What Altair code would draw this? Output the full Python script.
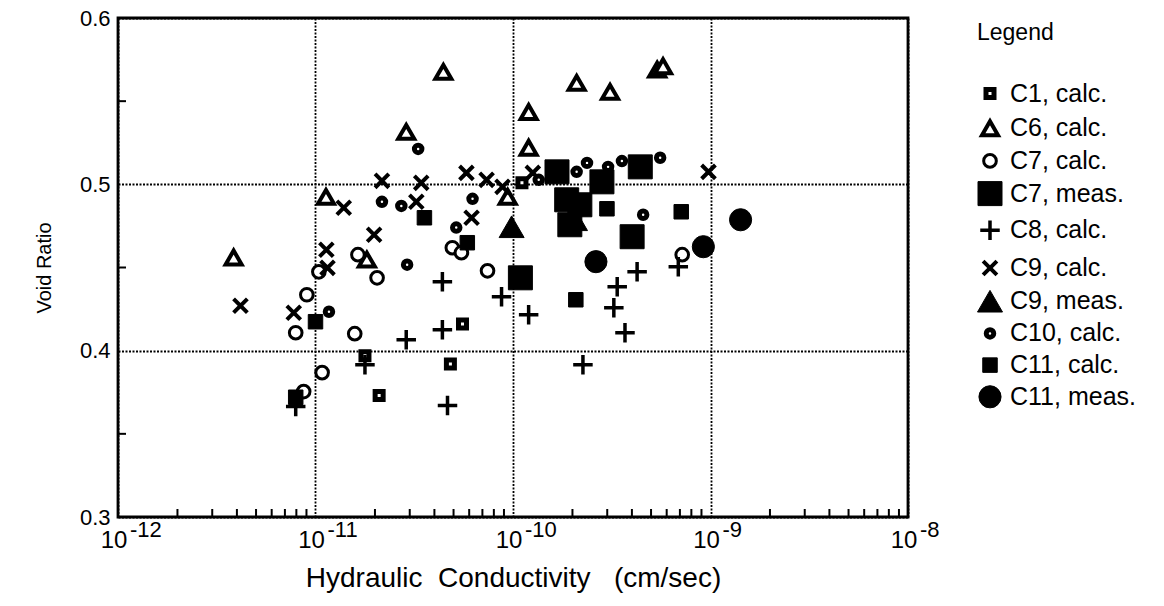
import altair as alt
import pandas as pd

# ---- data (K in cm/sec, e = void ratio) ----
series_names = ["C1, calc.", "C6, calc.", "C7, calc.", "C7, meas.", "C8, calc.",
                "C9, calc.", "C9, meas.", "C10, calc.", "C11, calc.", "C11, meas."]

c1_k = [5.55e-11, 4.82e-11, 2.10e-11, 1.78e-11, 1.11e-10]
c1_e = [0.416, 0.392, 0.373, 0.397, 0.501]

c6_k = [3.85e-12, 1.13e-11, 2.88e-11, 4.44e-11, 1.20e-10, 1.20e-10, 2.10e-10, 3.10e-10,
        5.37e-10, 5.75e-10, 9.4e-11, 1.82e-11]
c6_e = [0.456, 0.4925, 0.5315, 0.5676, 0.5435, 0.522, 0.561, 0.5556,
        0.569, 0.571, 0.4925, 0.4547]

c7c_k = [9.04e-12, 7.94e-12, 1.58e-11, 1.08e-11, 8.71e-12, 1.04e-11, 1.64e-11, 2.05e-11,
         4.93e-11, 5.48e-11, 7.43e-11, 7.19e-10]
c7c_e = [0.4336, 0.4108, 0.4102, 0.3868, 0.3754, 0.4474, 0.4577, 0.4438,
         0.4619, 0.4589, 0.448, 0.4577]

c7m_k = [1.67e-10, 2.82e-10, 4.41e-10, 1.87e-10, 1.94e-10, 4.01e-10, 1.09e-10, 2.18e-10]
c7m_e = [0.5075, 0.5015, 0.5105, 0.4907, 0.4757, 0.4685, 0.4438, 0.4877]

c8_k = [7.94e-12, 1.78e-11, 2.88e-11, 4.39e-11, 4.66e-11, 4.39e-11, 8.75e-11, 1.20e-10,
        2.26e-10, 3.37e-10, 4.25e-10, 3.24e-10, 3.69e-10, 6.87e-10]
c8_e = [0.3664, 0.3916, 0.4066, 0.4126, 0.367, 0.4414, 0.4324, 0.4216,
        0.3916, 0.4384, 0.4474, 0.4258, 0.4108, 0.4505]

c9c_k = [4.17e-12, 7.76e-12, 1.39e-11, 2.17e-11, 3.43e-11, 3.24e-11, 1.98e-11, 1.135e-11,
         1.15e-11, 5.81e-11, 6.17e-11, 7.35e-11, 8.85e-11, 1.26e-10, 9.77e-10]
c9c_e = [0.427, 0.4228, 0.4859, 0.5021, 0.5009, 0.4895, 0.4697, 0.4607,
         0.4498, 0.5069, 0.4799, 0.5027, 0.4985, 0.5069, 0.5075]

c9m_k = [9.84e-11, 2.06e-10]
c9m_e = [0.4745, 0.4787]

c10_k = [3.31e-11, 2.17e-11, 2.72e-11, 6.24e-11, 5.16e-11, 2.91e-11, 1.17e-11, 1.35e-10,
         2.10e-10, 2.37e-10, 3.03e-10, 3.56e-10, 5.56e-10, 4.56e-10]
c10_e = [0.5213, 0.4895, 0.487, 0.4913, 0.474, 0.4517, 0.4234, 0.5027,
         0.5075, 0.5129, 0.5105, 0.514, 0.516, 0.4817]

c11c_k = [1.0e-11, 3.56e-11, 5.87e-11, 2.99e-10, 7.11e-10, 2.08e-10, 7.94e-12]
c11c_e = [0.4174, 0.4799, 0.4649, 0.4853, 0.4835, 0.4306, 0.372]

c11m_k = [2.63e-10, 9.2e-10, 1.42e-9]
c11m_e = [0.4535, 0.4625, 0.4787]

x_major = [1e-12, 1e-11, 1e-10, 1e-9, 1e-8]
x_base_labels = ["10", "10", "10", "10", "10"]
x_exp_labels = ["-12", "-11", "-10", "-9", "-8"]
y_major = [0.3, 0.4, 0.5, 0.6]
y_minor = [0.35, 0.45, 0.55]
x_minor = [m * d for d in [1e-12, 1e-11, 1e-10, 1e-9] for m in range(2, 10)]

all_k = [c1_k, c6_k, c7c_k, c7m_k, c8_k, c9c_k, c9m_k, c10_k, c11c_k, c11m_k]
all_e = [c1_e, c6_e, c7c_e, c7m_e, c8_e, c9c_e, c9m_e, c10_e, c11c_e, c11m_e]
rows = []
for name, ks, es in zip(series_names, all_k, all_e):
    for k, e in zip(ks, es):
        rows.append({"series": name, "K": k, "e": e})
df = pd.DataFrame(rows)

PLUS = "M-1,0H1M0,-1V1"
CROSS = "M-1,-1L1,1M-1,1L1,-1"
shape_range = ["square", "triangle-up", "circle", "square", PLUS, CROSS,
               "triangle-up", "circle", "square", "circle"]
size_range = [64, 256, 160, 576, 380, 190, 625, 56, 210, 490]
fill_range = ["white", "white", "white", "black", "black", "black",
              "black", "white", "black", "black"]
stroke_range = ["black"] * 10
sw_range = [5, 4, 3, 1, 3.5, 4, 1, 5, 1, 1]

W, H = 790, 499
FONT = "Liberation Sans"

xscale = alt.Scale(type="log", domain=[1e-12, 1e-8])
yscale = alt.Scale(domain=[0.3, 0.6])

legend = alt.Legend(title="Legend", orient="none", legendX=859, legendY=4,
                    titleFontSize=23, titleFont=FONT, titleFontWeight="normal",
                    titleColor="black", titleAnchor="start", titlePadding=36,
                    labelFontSize=25, labelFont=FONT, labelColor="black",
                    rowPadding=4.7, labelOffset=7, padding=0)

points = alt.Chart(df).mark_point(opacity=1).encode(
    x=alt.X("K:Q", scale=xscale,
            axis=alt.Axis(values=x_major, labels=False, grid=True, ticks=False, domain=False,
                          gridColor="black", gridDash=[2, 1.5], gridWidth=1.8, gridOpacity=1,
                          title="Hydraulic\u00a0\u00a0Conductivity\u00a0\u00a0\u00a0(cm/sec)",
                          titleFontSize=28, titleFont=FONT, titleFontWeight="normal",
                          titleColor="black", titlePadding=47)),
    y=alt.Y("e:Q", scale=yscale,
            axis=alt.Axis(values=y_major, format=".1f", grid=True, ticks=False, domain=False,
                          labelFontSize=22, labelFont=FONT, labelColor="black", labelPadding=8,
                          gridColor="black", gridDash=[2, 1.5], gridWidth=1.8, gridOpacity=1,
                          title="Void Ratio", titleFontSize=20, titleFont=FONT,
                          titleFontWeight="normal", titleColor="black", titlePadding=25)),
    shape=alt.Shape("series:N", scale=alt.Scale(domain=series_names, range=shape_range),
                    legend=legend),
    size=alt.Size("series:N", scale=alt.Scale(type="ordinal", domain=series_names,
                                              range=size_range), legend=legend),
    fill=alt.Fill("series:N", scale=alt.Scale(domain=series_names, range=fill_range),
                  legend=legend),
    stroke=alt.Stroke("series:N", scale=alt.Scale(domain=series_names, range=stroke_range),
                      legend=legend),
    strokeWidth=alt.StrokeWidth("series:N", scale=alt.Scale(type="ordinal", domain=series_names,
                                                            range=sw_range), legend=legend),
)

xminor_df = pd.DataFrame({"K": x_minor})
yminor_df = pd.DataFrame({"e": y_minor})
xlab_df = pd.DataFrame({"K": x_major, "base": x_base_labels, "exp": x_exp_labels})

xticks = alt.Chart(xminor_df).mark_rule(color="black", strokeWidth=2).encode(
    x=alt.X("K:Q", scale=xscale), y=alt.value(H), y2=alt.value(H - 8))
yticks = alt.Chart(yminor_df).mark_rule(color="black", strokeWidth=2).encode(
    y=alt.Y("e:Q", scale=yscale), x=alt.value(0), x2=alt.value(8))

xbase = alt.Chart(xlab_df).mark_text(font=FONT, fontSize=24, align="center",
                                     baseline="alphabetic", dx=-4, color="black").encode(
    x=alt.X("K:Q", scale=xscale), y=alt.value(H + 31), text="base:N")
xexp = alt.Chart(xlab_df).mark_text(font=FONT, fontSize=22, align="left",
                                    baseline="alphabetic", dx=12, color="black").encode(
    x=alt.X("K:Q", scale=xscale), y=alt.value(H + 20), text="exp:N")

chart = alt.layer(points, xticks, yticks, xbase, xexp).properties(
    width=W, height=H,
    autosize=alt.AutoSizeParams(type="none"),
    padding={"left": 118, "top": 18, "right": 1164 - 118 - W, "bottom": 606 - 18 - H},
    background="white",
).configure_view(stroke="black", strokeWidth=2.8)

chart.save("out.html", embed_options={"renderer": "svg", "actions": False})
